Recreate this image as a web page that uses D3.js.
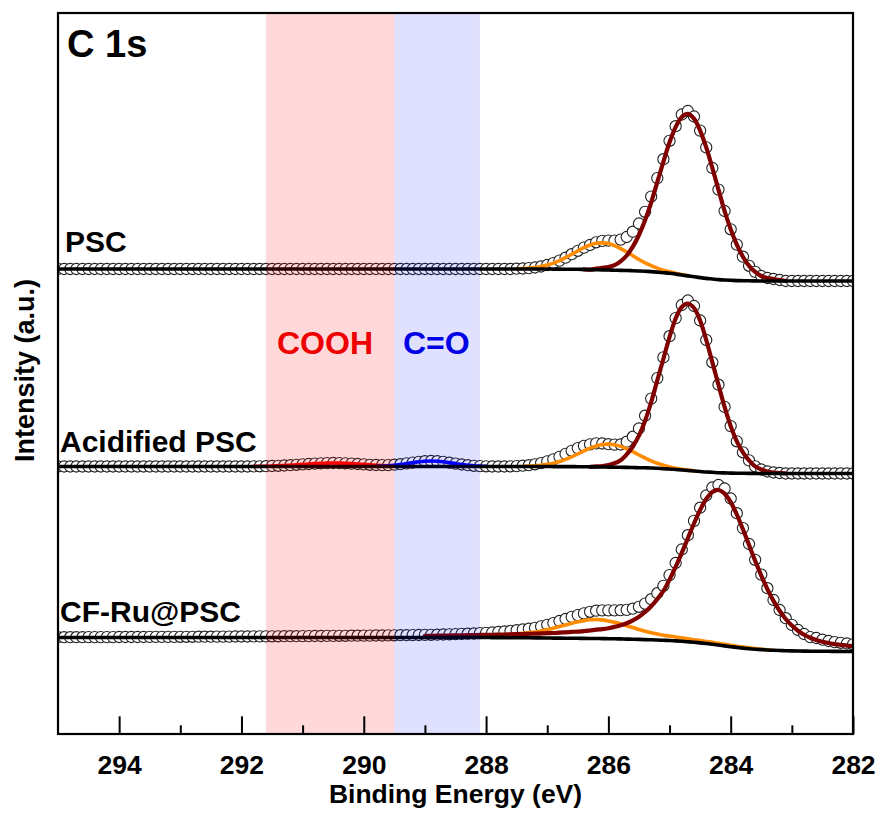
<!DOCTYPE html>
<html><head><meta charset="utf-8">
<script src="https://cdn.jsdelivr.net/npm/d3@7"></script>
<style>
body{margin:0;background:#fff}
svg{display:block}
text{font-family:"Liberation Sans",Arial,Helvetica,sans-serif;font-weight:bold}
</style>
</head><body><svg id="chart" width="882" height="814"></svg>
<script>
// ---------------- DATA ----------------
// binding-energy grid of the measured points: 295.0 -> 282.0 eV, 0.1 eV step (131 points)
const energyMax = 295.0, energyMin = 282.0, energyStep = 0.1;
const bindingEnergy = d3.range(131).map(i => +(energyMax - i * energyStep).toFixed(1));

const majorTicks = [294, 292, 290, 288, 286, 284, 282];
const minorTicks = [293, 291, 289, 287, 285, 283];

const panelLabels = ["PSC", "Acidified PSC", "CF-Ru@PSC"];
const panelOffsets = [465, 267.5, 96.5];   // vertical stacking offsets (a.u.)

// raw spectra (a.u., relative to each trace's offset)
const pscData = [
0,0,0,0,0,0,0,0,0,0,0,0,0,0,0,0,0,0,0,0,0,0,0,0,0,0,0,0,0,0,0,0,0,0,0,0,0,0,0,0,0,0,0,0,0,0,0,0,0,0,0,0,0,0,0,0,0,0,0,0,0,0,0,0,0,0,0,0,0,0,0,0,0,0,0,
0.3,0.5,0.9,1.5,2.5,4,5.9,8.4,11.3,14.8,18.2,21.4,24,26.7,28.1,28.4,28.4,29.4,32,37.3,45.5,57.2,72.4,90.9,109.8,128.2,142.8,154.5,158,152.5,138.4,121.6,101,79.4,58,39.7,24.4,12.3,3.2,-2.9,-7,-9,-10,-11,-12,
-12,-12,-12,-12,-12,-12,-12,-12,-12,-12,-12];
const pscBackground = [
0,0,0,0,0,0,0,0,0,0,0,0,0,0,0,0,0,0,0,0,0,0,0,0,0,0,0,0,0,0,0,0,0,0,0,0,0,0,0,0,0,0,0,0,0,0,0,0,0,0,0,0,0,0,0,0,0,0,0,0,0,0,0,0,0,0,0,0,0,0,0,0,0,0,0,0,0,0,0,0,0,
-0.1,-0.1,-0.2,-0.2,-0.3,-0.4,-0.6,-0.7,-0.9,-1.0,-1.2,-1.4,-1.5,-1.7,-2.0,-2.3,-2.6,-3.1,-3.7,-4.3,-5.1,-6.0,-6.9,-7.7,-8.6,-9.4,-10.0,-10.6,-11.0,-11.3,-11.6,-11.7,-11.8,-11.9,
-12,-12,-12,-12,-12,-12,-12,-12,-12,-12,-12,-12,-12,-12,-12,-12];
const pscCC = [0,0,1,2,3,5,9,15,24,36,51,69,90,111,131,147,158,162,158,147,131,111,90,69,51,36,24,15,9,5,3,2,1,0];           // from 286.4 eV
const pscCO = [0.3,0.5,0.9,1.5,2.5,4,6,8.5,11.5,15,18.5,21.8,24.6,26.4,27,26.4,24.6,21.8,18.5,15,11.5,8.5,6,4,2.5,1.5,0.9,0.5,0.3]; // from 287.5 eV

const acidData = [
0,0,0,0,0,0,0,0,0,0,0,0,0,0,0,0,0,0,0,0,0,0,0,0,0,0,0,0,0,0,0,0,
0.1,0.2,0.3,0.5,0.7,1.0,1.3,1.7,2.1,2.5,2.9,3.2,3.4,3.5,3.4,3.2,2.9,2.5,2.1,1.7,1.5,1.4,1.4,1.8,2.3,3.1,3.9,4.7,5.3,5.5,5.3,4.7,3.8,2.9,2.0,1.3,0.7,0.4,0.2,0,0,0,0.2,
0.4,0.8,1.3,2.2,3.4,5.1,7.1,9.7,12.6,15.7,18.4,20.7,22.2,23.1,23,22.3,21.9,22,24.8,29.8,38,50.8,67.9,88.4,109.1,130.3,148.4,161.5,166,160.5,146,126.5,104.2,81.8,59.6,40.4,25.2,14.2,6.1,0.1,-3,-5,-6,-6.5,-7,
-7,-7,-7,-7,-7,-7,-7,-7,-7,-7,-7];
const acidBackground = [
0,0,0,0,0,0,0,0,0,0,0,0,0,0,0,0,0,0,0,0,0,0,0,0,0,0,0,0,0,0,0,0,0,0,0,0,0,0,0,0,0,0,0,0,0,0,0,0,0,0,0,0,0,0,0,0,0,0,0,0,0,0,0,0,0,0,0,0,0,0,0,0,0,0,0,0,0,0,0,0,0,
-0.1,-0.1,-0.1,-0.1,-0.2,-0.2,-0.3,-0.4,-0.5,-0.6,-0.7,-0.8,-0.9,-1.0,-1.2,-1.3,-1.5,-1.8,-2.2,-2.5,-3.0,-3.5,-4.0,-4.5,-5.0,-5.5,-5.8,-6.2,-6.4,-6.6,-6.8,-6.8,-6.9,-6.9,
-7,-7,-7,-7,-7,-7,-7,-7,-7,-7,-7,-7,-7,-7,-7,-7];
const acidCC = [0,0.5,1,2,4,7,13,21,32,47,66,88,110,132,151,163,167,163,151,132,110,88,66,47,32,21,13,7,4,2,1,0.5,0];  // from 286.3 eV
const acidCO = [0.2,0.4,0.8,1.3,2.2,3.4,5.1,7.2,9.8,12.7,15.8,18.6,20.9,22.5,23,22.5,20.9,18.6,15.8,12.7,9.8,7.2,5.1,3.4,2.2,1.3,0.8,0.4,0.2]; // from 287.4 eV
const acidCOOH = [0.1,0.2,0.3,0.5,0.7,1.0,1.3,1.7,2.1,2.5,2.9,3.2,3.4,3.5,3.4,3.2,2.9,2.5,2.1,1.7,1.3,1.0,0.7,0.5,0.3,0.2,0.1]; // from 291.8 eV
const acidCdO = [0.2,0.4,0.7,1.3,2.0,2.9,3.8,4.7,5.3,5.5,5.3,4.7,3.8,2.9,2.0,1.3,0.7,0.4,0.2]; // from 289.8 eV

const cfData = [
0.3,0.3,0.3,0.3,0.3,0.4,0.4,0.4,0.4,0.4,0.5,0.5,0.5,0.5,0.5,0.6,0.6,0.6,0.6,0.6,
0.7,0.7,0.7,0.8,0.8,0.8,0.9,0.9,0.9,1.0,1.0,1.0,1.1,1.1,1.1,1.2,1.2,1.3,1.3,1.3,
1.4,1.4,1.5,1.5,1.6,1.6,1.7,1.7,1.8,1.8,1.9,1.9,2.0,2.0,2.1,2.2,2.3,2.3,2.4,2.5,
2.6,2.7,2.8,3.0,3.2,3.4,3.6,3.8,4.0,4.4,4.7,5.0,5.5,6.0,6.6,7.3,8.0,8.8,9.7,11.1,12.7,14.4,16.5,18.5,20.6,22.4,24.1,25.7,26.8,27.1,27.1,27.1,27.3,27.6,28.8,30.7,33.9,38.3,44.3,51.7,62.4,74.5,88.0,102.3,116.6,129.8,142,150,152.5,149,139,124.3,109.4,93.5,77.7,62.9,49.3,37.5,27.5,19.3,12.6,7.5,3.5,0.4,-0.5,-2.2,-3.5,-4.6,-5.3,-6.0,-6.8];
const cfBackground = [
0,0,0,0,0,0,0,0,0,0,0,0,0,0,0,0,0,0,0,0,0,0,0,0,0,0,0,0,0,0,0,0,0,0,0,0,0,0,0,0,0,0,0,0,0,0,0,0,0,0,0,0,0,0,0,0,0,0,0,0,0,0,0,0,0,0,0,0,0,0,0,
-0.1,-0.1,-0.1,-0.2,-0.2,-0.3,-0.3,-0.4,-0.4,-0.5,-0.6,-0.6,-0.7,-0.7,-0.8,-0.9,-1.0,-1.0,-1.1,-1.2,-1.3,-1.4,-1.6,-1.7,-1.9,-2.1,-2.3,-2.5,-2.8,-3.0,-3.4,-3.8,-4.3,-4.8,-5.4,-6.0,-6.7,-7.5,-8.4,-9.2,-9.9,-10.6,-11.2,-11.7,-12.1,-12.5,-12.8,-13.0,-13.2,-13.4,-13.5,-13.6,-13.7,-13.7,-13.8,-13.8,-13.9,-13.9,-14,-14];
const cfCC = [1.7,1.75,1.8,1.9,2.0,2.1,2.2,2.3,2.4,2.6,2.7,2.8,3.0,3.1,3.4,3.6,3.8,4.0,4.2,4.5,4.8,5.1,5.5,5.9,6.3,6.7,7.2,8.0,8.8,9.5,10.5,11.9,13.7,15.9,18.9,22.7,27.6,33.6,40.9,49.4,60.9,74.0,88.4,103.6,118.8,132.9,144.5,152.3,155,152.3,144.5,132.9,118.8,103.6,88.4,74.0,60.9,49.4,39.7,31.7,25.3,20.3,16.4,13.5,11.3,9.6,8.3,7.3,6.6,5.9,5.3]; // from 289.0 eV
const cfCO = [0.9,0.95,1.0,1.1,1.2,1.3,1.4,1.5,1.6,1.8,2.0,2.3,2.6,3.0,3.4,3.9,4.5,5.1,5.9,7.0,8.4,9.9,11.6,13.3,15.0,16.5,17.8,18.7,19,18.7,17.8,16.5,15.0,13.3,11.6,9.9,8.4,7.0,5.9,5.1,4.5,3.9,3.4,3.0,2.6,2.3,2.0,1.8,1.6,1.5,1.4,1.2,1.0,0.8,0.6,0.4,0.2,0]; // from 289.0 eV

const bandCOOH = [291.6, 289.5];
const bandCdO = [289.5, 288.1];

// ---------------- CHART ----------------
const svg = d3.select('#chart');
const L = 58, R = 853, T = 13, B = 734;
const x = d3.scaleLinear().domain([energyMax, energyMin]).range([L, R]);
const y = d3.scaleLinear().domain([0, B - T]).range([B, T]);
svg.append('rect').attr('width', 882).attr('height', 814).attr('fill', '#fff');
svg.append('defs').append('clipPath').attr('id', 'plotclip')
  .append('rect').attr('x', L).attr('y', T).attr('width', R - L).attr('height', B - T);

const gridIndex = e => Math.round((energyMax - e) / energyStep);

const panels = [
  {label: panelLabels[0], offset: panelOffsets[0], data: pscData, bg: pscBackground, labelPos: [65, 252],
   comps: [{start: 287.5, values: pscCO, color: '#ff8c00', w: 3.6}, {start: 286.4, values: pscCC, color: '#800000', w: 4.2}]},
  {label: panelLabels[1], offset: panelOffsets[1], data: acidData, bg: acidBackground, labelPos: [60, 452],
   comps: [{start: 291.8, values: acidCOOH, color: '#ff0000', w: 3.6}, {start: 289.8, values: acidCdO, color: '#0000ff', w: 3.6},
           {start: 287.4, values: acidCO, color: '#ff8c00', w: 3.6}, {start: 286.3, values: acidCC, color: '#800000', w: 4.2}]},
  {label: panelLabels[2], offset: panelOffsets[2], data: cfData, bg: cfBackground, labelPos: [60, 622],
   comps: [{start: 289.0, values: cfCO, color: '#ff8c00', w: 3.6}, {start: 289.0, values: cfCC, color: '#800000', w: 4.2}]}
];

const plot = svg.append('g').attr('clip-path', 'url(#plotclip)');
panels.forEach(p => {
  const g = plot.append('g');
  const line = d3.line().x(d => x(d.e)).y(d => y(p.offset + d.v)).curve(d3.curveCatmullRom.alpha(0.5));
  const pts = bindingEnergy.map((e, i) => ({e, v: p.data[i]}));
  g.selectAll('circle').data(pts).join('circle')
    .attr('cx', d => x(d.e)).attr('cy', d => y(p.offset + d.v)).attr('r', 5.6)
    .attr('fill', '#fff').attr('stroke', '#222').attr('stroke-width', 1.1);
  p.comps.forEach(c => {
    const cp = c.values.map((v, j) => {
      const e = +(c.start - j * energyStep).toFixed(1);
      return {e, v: v + p.bg[gridIndex(e)]};
    });
    g.append('path').datum(cp).attr('d', line).attr('fill', 'none')
      .attr('stroke', c.color).attr('stroke-width', c.w).attr('stroke-linecap', 'round');
  });
  const bgPts = bindingEnergy.map((e, i) => ({e, v: p.bg[i]}));
  g.append('path').datum(bgPts).attr('d', line).attr('fill', 'none')
    .attr('stroke', '#000').attr('stroke-width', 3.6);
});

// shaded bands (translucent overlay)
svg.append('rect').attr('x', x(bandCOOH[0])).attr('y', T).attr('width', x(bandCOOH[1]) - x(bandCOOH[0])).attr('height', B - T)
  .attr('fill', '#ff0000').attr('fill-opacity', 0.15);
svg.append('rect').attr('x', x(bandCdO[0])).attr('y', T).attr('width', x(bandCdO[1]) - x(bandCdO[0])).attr('height', B - T)
  .attr('fill', '#0000ff').attr('fill-opacity', 0.12);

// texts
panels.forEach(p => {
  svg.append('text').attr('x', p.labelPos[0]).attr('y', p.labelPos[1]).attr('font-size', 30).attr('fill', '#000').text(p.label);
});
svg.append('text').attr('x', 67).attr('y', 57).attr('font-size', 38).text('C 1s');
svg.append('text').attr('x', 277).attr('y', 354).attr('font-size', 32).attr('fill', '#ee0000').text('COOH');
svg.append('text').attr('x', 403).attr('y', 354).attr('font-size', 32).attr('fill', '#0000e6').text('C=O');

// axes
const ax = svg.append('g').attr('transform', `translate(0,${B})`);
ax.call(d3.axisBottom(x).tickValues(majorTicks).tickSize(-17.7).tickFormat(d3.format('d')));
ax.select('.domain').remove();
ax.attr('font-family', null).attr('font-size', null);
ax.selectAll('line').attr('stroke', '#000').attr('stroke-width', 2);
ax.selectAll('text').attr('y', 40).attr('dy', '0').attr('font-size', 26.5).attr('fill', '#000');
const axm = svg.append('g').attr('transform', `translate(0,${B})`);
axm.call(d3.axisBottom(x).tickValues(minorTicks).tickSize(-8.7).tickFormat(''));
axm.select('.domain').remove();
axm.selectAll('line').attr('stroke', '#000').attr('stroke-width', 2);

svg.append('rect').attr('x', L).attr('y', T).attr('width', R - L).attr('height', B - T)
  .attr('fill', 'none').attr('stroke', '#000').attr('stroke-width', 2.2);

svg.append('text').attr('x', (L + R) / 2).attr('y', 803).attr('text-anchor', 'middle').attr('font-size', 26.5).text('Binding Energy (eV)');
svg.append('text').attr('transform', `translate(34,${(T + B) / 2 - 3}) rotate(-90)`).attr('text-anchor', 'middle').attr('font-size', 27).text('Intensity (a.u.)');
</script></body></html>
